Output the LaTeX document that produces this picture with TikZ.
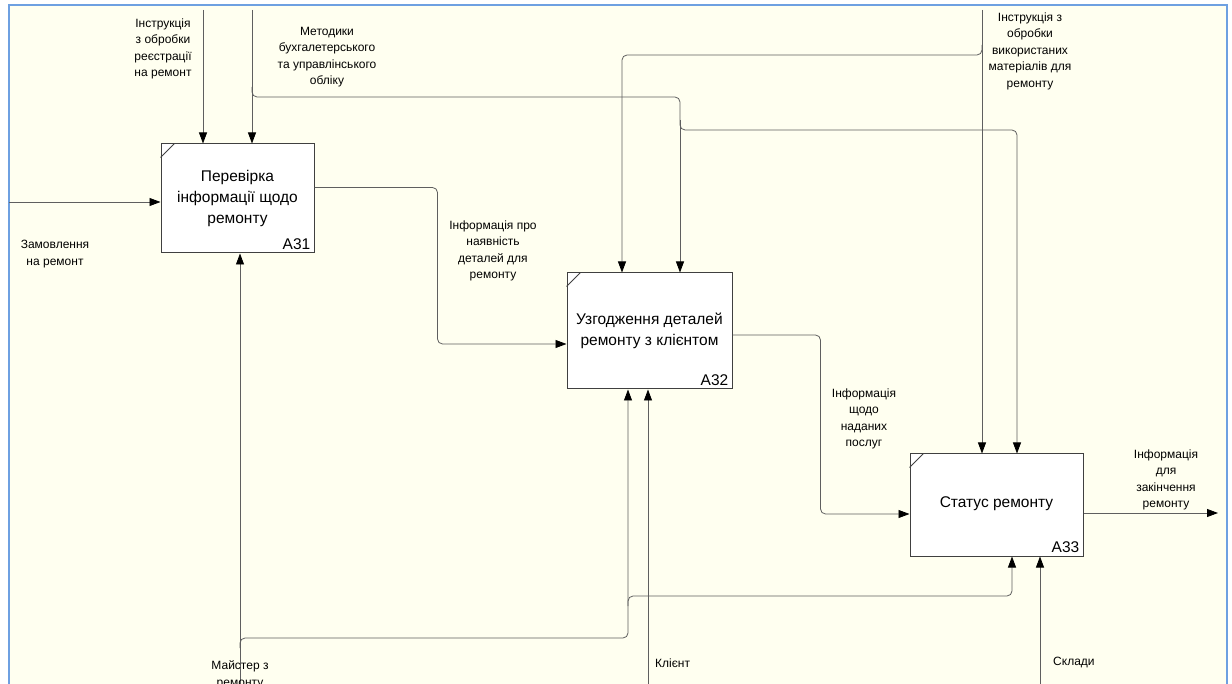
\documentclass[tikz,border=0pt]{standalone}
\usepackage{fontspec}
\setmainfont{Liberation Sans}
\usetikzlibrary{arrows.meta, positioning}
\definecolor{paper}{RGB}{255,255,240}
\definecolor{frameblue}{RGB}{110,160,225}
\definecolor{wire}{RGB}{95,95,95}
\tikzset{
    func/.style={draw=black!75, line width=1pt, fill=white, align=center, inner sep=0pt, font=\fontsize{15.5}{21}\selectfont},
    arr/.style={draw=wire, line width=0.8pt, rounded corners=5pt, -{Triangle[length=11pt,width=8pt,color=black]}},
    lbl/.style={align=center, inner sep=0pt, font=\fontsize{12}{16.5}\selectfont},
    num/.style={anchor=south east, inner sep=4pt, font=\fontsize{15.5}{17}\selectfont}
}

\begin{document}
\begin{tikzpicture}[x=1pt,y=-1pt]
    \useasboundingbox (0,0) rectangle (1232,684);
    \fill[white] (0,0) rectangle (1232,684);
    \begin{scope}
        \clip (0,0) rectangle (1232,684);
        \draw[frameblue, line width=2pt, fill=paper] (9,5) rectangle (1227,700);
    \end{scope}
    % functions
    \node[func, minimum width=153pt, minimum height=109pt] (A31) at (237.5,198.5) {Перевірка\\інформації щодо\\ремонту};
    \node[func, minimum width=165pt, minimum height=116pt] (A32) at (649.5,331) {Узгодження деталей\\ремонту з клієнтом};
    \node[func, minimum width=173pt, minimum height=102pt] (A33) at (996.5,505) {\raisebox{5pt}{Статус ремонту}};
    \foreach \b in {A31,A32,A33}{
        \draw[black!75, line width=0.8pt] ([yshift=-14pt]\b.north west) -- ([xshift=14pt]\b.north west);
        \node[num] at (\b.south east) {\b};
    }
    % free ends
    \coordinate (inp) at (9,202);
    \coordinate (c1) at (203,10);
    \coordinate (c2) at (252,10);
    \coordinate (c3) at (982,10);
    \coordinate (j1) at (252,97);
    \coordinate (j2) at (680,130);
    \coordinate (j3) at (982,55);
    \coordinate (m1) at (240,684);
    \coordinate (j4) at (240,638);
    \coordinate (j5) at (628,596);
    \coordinate (k1) at (648,684);
    \coordinate (s1) at (1040,684);
    \coordinate (outEnd) at (1218,513);
    % inputs and outputs
    \draw[arr] (inp) -- (inp -| A31.west);
    \draw[arr] ([yshift=11pt]A31.east) -- ++(123,0) |- ([yshift=-13pt]A32.west);
    \draw[arr] ([yshift=-4pt]A32.east) -- ++(88,0) |- ([yshift=-9pt]A33.west);
    \draw[arr] ([yshift=-8pt]A33.east) -- (outEnd);
    % controls
    \draw[arr] (c1) -- (c1 |- A31.north);
    \draw[arr] (c2) -- (c2 |- A31.north);
    \draw[arr] ([yshift=10pt]j1) -- (j1) -| (j2) -| ([xshift=20.5pt]A33.north);
    \draw[arr] ([yshift=10pt]j2) -- ([xshift=30.5pt]A32.north);
    \draw[arr] (c3) -- ([xshift=-14.5pt]A33.north);
    \draw[arr] ([yshift=10pt]j3) -- (j3) -| ([xshift=-27.5pt]A32.north);
    % mechanisms
    \draw[arr] (m1) -- ([xshift=2.5pt]A31.south);
    \draw[arr] ([yshift=-10pt]j4) -- (j4) -| ([xshift=-21.5pt]A32.south);
    \draw[arr] ([yshift=-10pt]j5) -- (j5) -| ([xshift=15.5pt]A33.south);
    \draw[arr] (k1) -- ([xshift=-1.5pt]A32.south);
    \draw[arr] (s1) -- ([xshift=43.5pt]A33.south);
    % labels
    \node[lbl] (lc1) at (163,49) {Інструкція\\з обробки\\реєстрації\\на ремонт};
    \node[lbl] (lc2) at (327,57) {Методики\\бухгалетерського\\та управлінського\\обліку};
    \node[lbl] (lc3) at (1030,51) {Інструкція з\\обробки\\використаних\\матеріалів для\\ремонту};
    \node[lbl] (lin) at (55,254) {Замовлення\\на ремонт};
    \node[lbl] (lo1) at (493,251) {Інформація про\\наявність\\деталей для\\ремонту};
    \node[lbl] (lo2) at (864,419) {Інформація\\щодо\\наданих\\послуг};
    \node[lbl] (lo3) at (1166,480) {Інформація\\для\\закінчення\\ремонту};
    \node[lbl] (lm1) at (240,675) {Майстер з\\ремонту};
    \node[lbl, anchor=west] (lk1) at (655,663) {Клієнт};
    \node[lbl, anchor=west] (ls1) at (1053,663) {Склади};
\end{tikzpicture}
\end{document}
